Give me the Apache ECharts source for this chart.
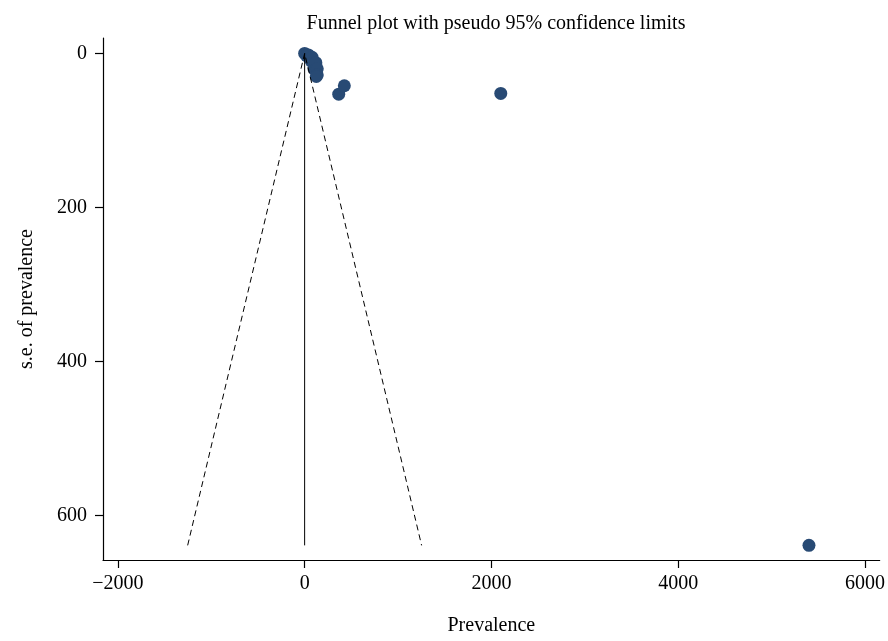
<!DOCTYPE html>
<html>
<head>
<meta charset="utf-8">
<script src="https://cdn.jsdelivr.net/npm/echarts@6/dist/echarts.min.js"></script>
<style>
html,body{margin:0;padding:0;background:#fff;overflow:hidden;}
#main{width:888px;height:641px;}
</style>
</head>
<body>
<div id="main"></div>
<script>
// Study estimates: [prevalence, s.e. of prevalence]
const prevalence = [0, 20, 40, 70, 80, 100, 120, 135, 135, 125, 365, 425, 2100, 5400];
const seValues   = [0, 3, 2, 10, 5, 20, 12, 20, 28, 30, 53, 42, 52, 639];
const pooledEstimate = 0;
const seMax = 639;
const zCrit = 1.96;
const xTicks = [-2000, 0, 2000, 4000, 6000];
const yTicks = [0, 200, 400, 600];
const titleText = 'Funnel plot with pseudo 95% confidence limits';
const xTitle = 'Prevalence';
const yTitle = 's.e. of prevalence';

const points = prevalence.map((p, i) => [p, seValues[i]]);
const funnel = [
  [pooledEstimate - zCrit * seMax, seMax],
  [pooledEstimate, 0],
  [pooledEstimate + zCrit * seMax, seMax]
];
const centerLine = [[pooledEstimate, 0], [pooledEstimate, seMax]];

const font = 'Liberation Serif';
const chart = echarts.init(document.getElementById('main'), null, {renderer: 'canvas', width: 888, height: 641});
chart.setOption({
  animation: false,
  backgroundColor: '#fff',
  textStyle: {fontFamily: font},
  title: {
    text: titleText,
    left: 491,
    textAlign: 'center',
    top: 9,
    textStyle: {fontFamily: font, fontWeight: 'normal', fontSize: 20, color: '#000'}
  },
  grid: {left: 103, top: 38, width: 778, height: 527, containLabel: false},
  xAxis: {
    type: 'value',
    min: -2159, max: 6157,
    name: xTitle,
    nameLocation: 'middle',
    nameGap: 56,
    nameTextStyle: {fontFamily: font, fontSize: 20, color: '#000'},
    axisLine: {show: true, onZero: false, lineStyle: {color: '#000', width: 1.2}},
    axisTick: {show: true, customValues: xTicks, length: 8, lineStyle: {color: '#000', width: 1.2}},
    axisLabel: {customValues: xTicks, fontFamily: font, fontSize: 20, color: '#000', margin: 14,
      formatter: v => String(v).replace('-', '\u2212')},
    splitLine: {show: false}
  },
  yAxis: {
    type: 'value',
    inverse: true,
    min: -20, max: 658,
    name: yTitle,
    nameLocation: 'middle',
    nameGap: 66,
    nameRotate: 90,
    nameTextStyle: {fontFamily: font, fontSize: 20, color: '#000'},
    axisLine: {show: true, onZero: false, lineStyle: {color: '#000', width: 1.2}},
    axisTick: {show: true, customValues: yTicks, length: 8, lineStyle: {color: '#000', width: 1.2}},
    axisLabel: {customValues: yTicks, fontFamily: font, fontSize: 20, color: '#000', margin: 16},
    splitLine: {show: false}
  },
  series: [
    {
      type: 'line', data: funnel, symbol: 'none', silent: true,
      lineStyle: {color: '#000', width: 1, type: [6, 4]}
    },
    {
      type: 'line', data: centerLine, symbol: 'none', silent: true,
      lineStyle: {color: '#000', width: 1}
    },
    {
      type: 'scatter', data: points, symbolSize: 13,
      itemStyle: {color: '#284a74', opacity: 1}
    }
  ]
});
</script>
</body>
</html>
